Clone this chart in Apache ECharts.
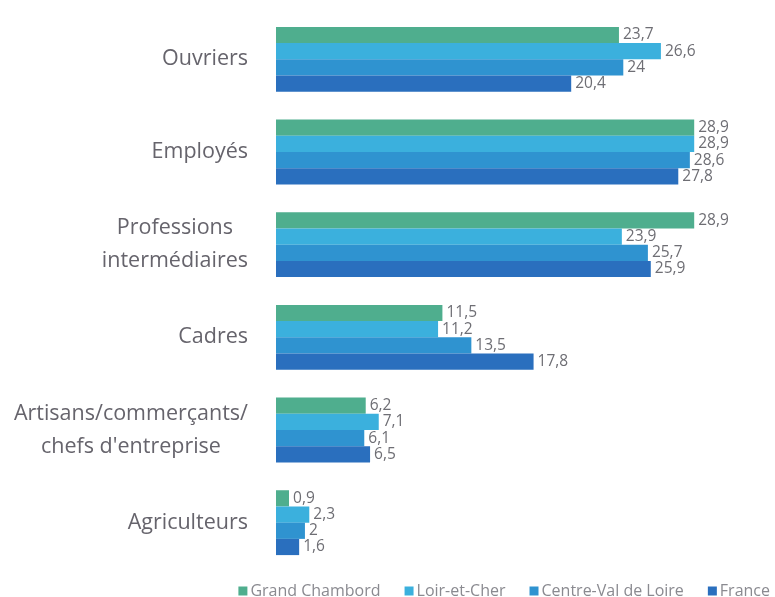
<!DOCTYPE html>
<html>
<head>
<meta charset="utf-8">
<script src="https://cdn.jsdelivr.net/npm/echarts@6/dist/echarts.min.js"></script>
<style>
  html, body { margin: 0; padding: 0; background: #fff; }
  #chart { width: 775px; height: 597px; }
</style>
</head>
<body>
<div id="chart"></div>
<script>
// catégories socioprofessionnelles (%)
var categories = ['Ouvriers', 'Employés', 'Professions\nintermédiaires', 'Cadres',
  "Artisans/commerçants/\nchefs d'entreprise", 'Agriculteurs'];
var seriesNames = ['Grand Chambord', 'Loir-et-Cher', 'Centre-Val de Loire', 'France'];
var grandChambord = [23.7, 28.9, 28.9, 11.5, 6.2, 0.9];
var loirEtCher = [26.6, 28.9, 23.9, 11.2, 7.1, 2.3];
var centreValDeLoire = [24, 28.6, 25.7, 13.5, 6.1, 2];
var france = [20.4, 27.8, 25.9, 17.8, 6.5, 1.6];

var colors = ['#4fae8e', '#3bb0dd', '#2f93d0', '#2a6fbe'];
var values = [grandChambord, loirEtCher, centreValDeLoire, france];

var myChart = echarts.init(document.getElementById('chart'));

var series = [];
values.forEach(function (v, i) {
  series.push({
    name: seriesNames[i],
    type: 'bar',
    data: v,
    barGap: '0%',
    barCategoryGap: '30%',
    itemStyle: { color: colors[i] },
    label: {
      show: true,
      position: 'right',
      distance: 4,
      color: '#6e6e74',
      fontSize: 15.5,
      fontFamily: 'Open Sans',
      formatter: function (p) { return String(p.value).replace('.', ','); }
    }
  });
});

myChart.setOption({
  animation: false,
  textStyle: { fontFamily: 'Open Sans' },
  grid: { left: 276, right: 7, top: 13, bottom: 28 },
  legend: {
    data: seriesNames,
    right: 0,
    top: 578,
    icon: 'rect',
    itemWidth: 9,
    itemHeight: 9,
    itemGap: 24,
    textStyle: { color: '#8a8a90', fontSize: 16, fontFamily: 'Open Sans', padding: [0, 0, 0, -2] }
  },
  xAxis: {
    type: 'value',
    min: 0,
    max: 34,
    show: false
  },
  yAxis: {
    type: 'category',
    data: categories,
    inverse: true,
    axisLine: { show: false },
    axisTick: { show: false },
    axisLabel: {
      margin: 28,
      formatter: function (val) {
        // lignes centrées entre elles
        return val.split('\n').map(function (s) { return '{c|' + s + '}'; }).join('\n');
      },
      rich: {
        c: {
          align: 'center',
          color: '#66646c',
          fontSize: 21.5,
          lineHeight: 33,
          fontFamily: 'Open Sans'
        }
      }
    }
  },
  series: series
});
</script>
</body>
</html>
